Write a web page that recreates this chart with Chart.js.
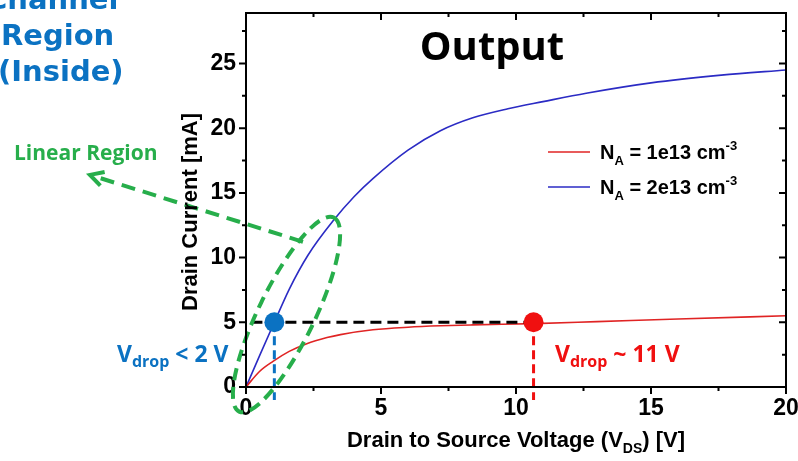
<!DOCTYPE html>
<html lang="en">
<head>
<meta charset="UTF-8">
<title>Output characteristics</title>
<script src="https://cdn.jsdelivr.net/npm/chart.js"></script>
<style>
  html, body { margin: 0; padding: 0; background: #fff; }
  #wrap { width: 798px; height: 461px; position: relative; }
</style>
</head>
<body>
<div id="wrap"><canvas id="chart"></canvas></div>
<script>
// drain current [mA] vs drain-source voltage [V]
const vdsLow = [0, 0.5, 1.0, 1.6, 2.25, 3.0, 3.5, 4.7, 6.0, 7.2, 8.4, 10.7, 13, 16, 20];
const idLow  = [0, 1.2, 1.98, 2.75, 3.35, 3.82, 4.05, 4.42, 4.62, 4.73, 4.8, 4.9, 5.05, 5.25, 5.5];

const vdsHigh = [0, 0.5, 1.05, 1.6, 2.3, 3.25, 4.0, 4.7, 6.0, 7.2, 8.4, 9.7, 11, 12.6, 15, 17.6, 20];
const idHigh  = [0, 2.4, 5.0, 7.55, 10.2, 12.9, 14.7, 16.1, 18.3, 19.8, 20.8, 21.5, 22.05, 22.7, 23.5, 24.1, 24.5];

const dopings = ['1e13', '2e13'];
const xTicks = [0, 5, 10, 15, 20];
const yTicks = [0, 5, 10, 15, 20, 25];

// V_drop markers at 5 mA
const dropV = [1.05, 10.65];
const dropI = 5;

const RED = '#E02424';
const BLUE = '#2B2BC4';
const TXT_BLUE = '#0B72C2';
const TXT_RED = '#F01010';
const GREEN = '#27AE4B';

// linear-region ellipse and arrow, in data units
const ellipse = { x: 1.5, y: 5.6, rx: 108, ry: 28, angle: -64 };
const arrow = { x1: 2.11, y1: 11.22, x2: -5.78, y2: 16.39 };

function runs(ctx, x, y, parts, family) {
  let cx = x;
  parts.forEach(p => {
    ctx.font = 'bold ' + p.size + 'px ' + family;
    ctx.fillText(p.t, cx, y + (p.dy || 0));
    cx += ctx.measureText(p.t).width;
  });
  return cx;
}
function runsWidth(ctx, parts, family) {
  let w = 0;
  parts.forEach(p => {
    ctx.font = 'bold ' + p.size + 'px ' + family;
    w += ctx.measureText(p.t).width;
  });
  return w;
}

const decor = {
  id: 'decor',
  afterDatasetsDraw(chart) {
    const ctx = chart.ctx;
    const x = chart.scales.x, y = chart.scales.y;
    ctx.save();
    ctx.strokeStyle = GREEN;
    ctx.lineWidth = 4;
    ctx.setLineDash([12, 7]);
    ctx.beginPath();
    ctx.ellipse(x.getPixelForValue(ellipse.x), y.getPixelForValue(ellipse.y),
      ellipse.rx, ellipse.ry, ellipse.angle * Math.PI / 180, 0, Math.PI * 2);
    ctx.stroke();

    const ax1 = x.getPixelForValue(arrow.x1), ay1 = y.getPixelForValue(arrow.y1);
    const ax2 = x.getPixelForValue(arrow.x2), ay2 = y.getPixelForValue(arrow.y2);
    ctx.setLineDash([14, 8]);
    ctx.beginPath();
    ctx.moveTo(ax1, ay1);
    ctx.lineTo(ax2, ay2);
    ctx.stroke();
    ctx.setLineDash([]);
    const ang = Math.atan2(ay1 - ay2, ax1 - ax2);
    ctx.beginPath();
    ctx.moveTo(ax2 + 15 * Math.cos(ang - 0.5), ay2 + 15 * Math.sin(ang - 0.5));
    ctx.lineTo(ax2, ay2);
    ctx.lineTo(ax2 + 15 * Math.cos(ang + 0.5), ay2 + 15 * Math.sin(ang + 0.5));
    ctx.stroke();
    ctx.restore();
  },
  afterDraw(chart) {
    const ctx = chart.ctx;
    const a = chart.chartArea;
    const x = chart.scales.x, y = chart.scales.y;
    ctx.save();
    // frame and ticks
    ctx.strokeStyle = '#000';
    ctx.lineWidth = 2;
    ctx.strokeRect(a.left, a.top, a.right - a.left, a.bottom - a.top);
    for (let v = 0; v <= 20; v += 2.5) {
      const px = x.getPixelForValue(v);
      const len = v % 5 === 0 ? 7 : 4;
      ctx.beginPath();
      ctx.moveTo(px, a.bottom); ctx.lineTo(px, a.bottom + len);
      ctx.moveTo(px, a.top); ctx.lineTo(px, a.top + len);
      ctx.stroke();
    }
    for (let v = 0; v <= 28; v += 2.5) {
      const py = y.getPixelForValue(v);
      const len = v % 5 === 0 ? 7 : 4;
      ctx.beginPath();
      ctx.moveTo(a.left, py); ctx.lineTo(a.left - len, py);
      ctx.moveTo(a.right, py); ctx.lineTo(a.right - len, py);
      ctx.stroke();
    }

    const sans = '"Liberation Sans", Arial, sans-serif';
    const open = '"Open Sans", sans-serif';
    const dejavu = '"DejaVu Sans", sans-serif';
    ctx.fillStyle = '#000';
    ctx.textBaseline = 'alphabetic';
    ctx.textAlign = 'left';

    // axis titles
    const xt = [{ t: 'Drain to Source Voltage (V', size: 22 }, { t: 'DS', size: 14, dy: 6 }, { t: ') [V]', size: 22 }];
    runs(ctx, 516 - runsWidth(ctx, xt, sans) / 2, 447, xt, sans);
    ctx.save();
    ctx.translate(197, 212);
    ctx.rotate(-Math.PI / 2);
    ctx.font = 'bold 22px ' + sans;
    ctx.textAlign = 'center';
    ctx.fillText('Drain Current [mA]', 0, 0);
    ctx.restore();

    // chart title
    ctx.font = 'bold 40px ' + open;
    ctx.textAlign = 'center';
    ctx.fillText('Output', 492, 60);
    ctx.textAlign = 'left';

    // legend
    const colors = [RED, BLUE];
    dopings.forEach((d, i) => {
      const ly = 152 + i * 35;
      ctx.strokeStyle = colors[i];
      ctx.lineWidth = 1.5;
      ctx.beginPath();
      ctx.moveTo(548, ly); ctx.lineTo(590, ly);
      ctx.stroke();
      ctx.fillStyle = '#000';
      runs(ctx, 600, ly + 7, [
        { t: 'N', size: 20 }, { t: 'A', size: 13, dy: 6 },
        { t: ' = ' + d + ' cm', size: 20 }, { t: '-3', size: 13, dy: -9 }
      ], sans);
    });

    // side notes
    ctx.fillStyle = TXT_BLUE;
    ctx.font = 'bold 29px ' + dejavu;
    ctx.fillText('Channel', -14, 9);
    ctx.fillText('Region', 1, 45);
    ctx.fillText('(Inside)', -2, 81);

    ctx.fillStyle = GREEN;
    ctx.font = 'bold 21px ' + open;
    ctx.fillText('Linear Region', 14, 160);

    ctx.fillStyle = TXT_BLUE;
    runs(ctx, 117, 362, [{ t: 'V', size: 23 }, { t: 'drop', size: 16, dy: 5 }, { t: ' < 2 V', size: 23 }], open);
    ctx.fillStyle = TXT_RED;
    runs(ctx, 555, 362, [{ t: 'V', size: 23 }, { t: 'drop', size: 16, dy: 5 }, { t: ' ~ 11 V', size: 23 }], open);
    ctx.restore();
  }
};

const ctx = document.getElementById('chart').getContext('2d');
const chart = new Chart(ctx, {
  type: 'line',
  data: {
    datasets: [
      {
        type: 'scatter',
        label: 'V_drop',
        data: dropV.map(v => ({ x: v, y: dropI })),
        pointRadius: 10,
        pointBackgroundColor: [TXT_BLUE, TXT_RED],
        pointBorderWidth: 0,
        clip: false,
        order: 0
      },
      {
        label: 'level',
        data: [{ x: 0.2, y: dropI }, { x: dropV[1], y: dropI }],
        borderColor: '#000',
        borderWidth: 3,
        borderDash: [11, 6],
        pointRadius: 0,
        order: 1
      },
      {
        label: 'drop low',
        data: [{ x: dropV[0], y: dropI }, { x: dropV[0], y: -1 }],
        borderColor: TXT_BLUE,
        borderWidth: 3,
        borderDash: [9, 5],
        pointRadius: 0,
        clip: false,
        order: 1
      },
      {
        label: 'drop high',
        data: [{ x: dropV[1], y: dropI }, { x: dropV[1], y: -1 }],
        borderColor: TXT_RED,
        borderWidth: 3,
        borderDash: [9, 5],
        pointRadius: 0,
        clip: false,
        order: 1
      },
      {
        label: 'NA = 1e13',
        data: vdsLow.map((v, i) => ({ x: v, y: idLow[i] })),
        borderColor: RED,
        borderWidth: 1.6,
        pointRadius: 0,
        cubicInterpolationMode: 'monotone',
        order: 2
      },
      {
        label: 'NA = 2e13',
        data: vdsHigh.map((v, i) => ({ x: v, y: idHigh[i] })),
        borderColor: BLUE,
        borderWidth: 1.6,
        pointRadius: 0,
        cubicInterpolationMode: 'monotone',
        order: 2
      }
    ]
  },
  options: {
    responsive: true,
    maintainAspectRatio: false,
    animation: false,
    layout: { padding: { top: 13, right: 12, bottom: 0, left: 0 } },
    plugins: { legend: { display: false }, tooltip: { enabled: false } },
    scales: {
      x: {
        type: 'linear',
        min: 0,
        max: 20,
        afterBuildTicks: s => { s.ticks = xTicks.map(v => ({ value: v })); },
        afterFit: s => { s.height = 74; s.paddingLeft = 0; s.paddingRight = 0; },
        grid: { display: false, drawTicks: false },
        border: { display: false },
        ticks: { color: '#000', padding: 8, font: { family: '"Liberation Sans", Arial', weight: 'bold', size: 23 } }
      },
      y: {
        type: 'linear',
        min: 0,
        max: 28.9,
        afterBuildTicks: s => { s.ticks = yTicks.map(v => ({ value: v })); },
        afterFit: s => { s.width = 246; s.paddingTop = 0; s.paddingBottom = 0; },
        grid: { display: false, drawTicks: false },
        border: { display: false },
        ticks: { color: '#000', padding: 10, font: { family: '"Liberation Sans", Arial', weight: 'bold', size: 23 } }
      }
    }
  },
  plugins: [decor]
});
</script>
</body>
</html>
